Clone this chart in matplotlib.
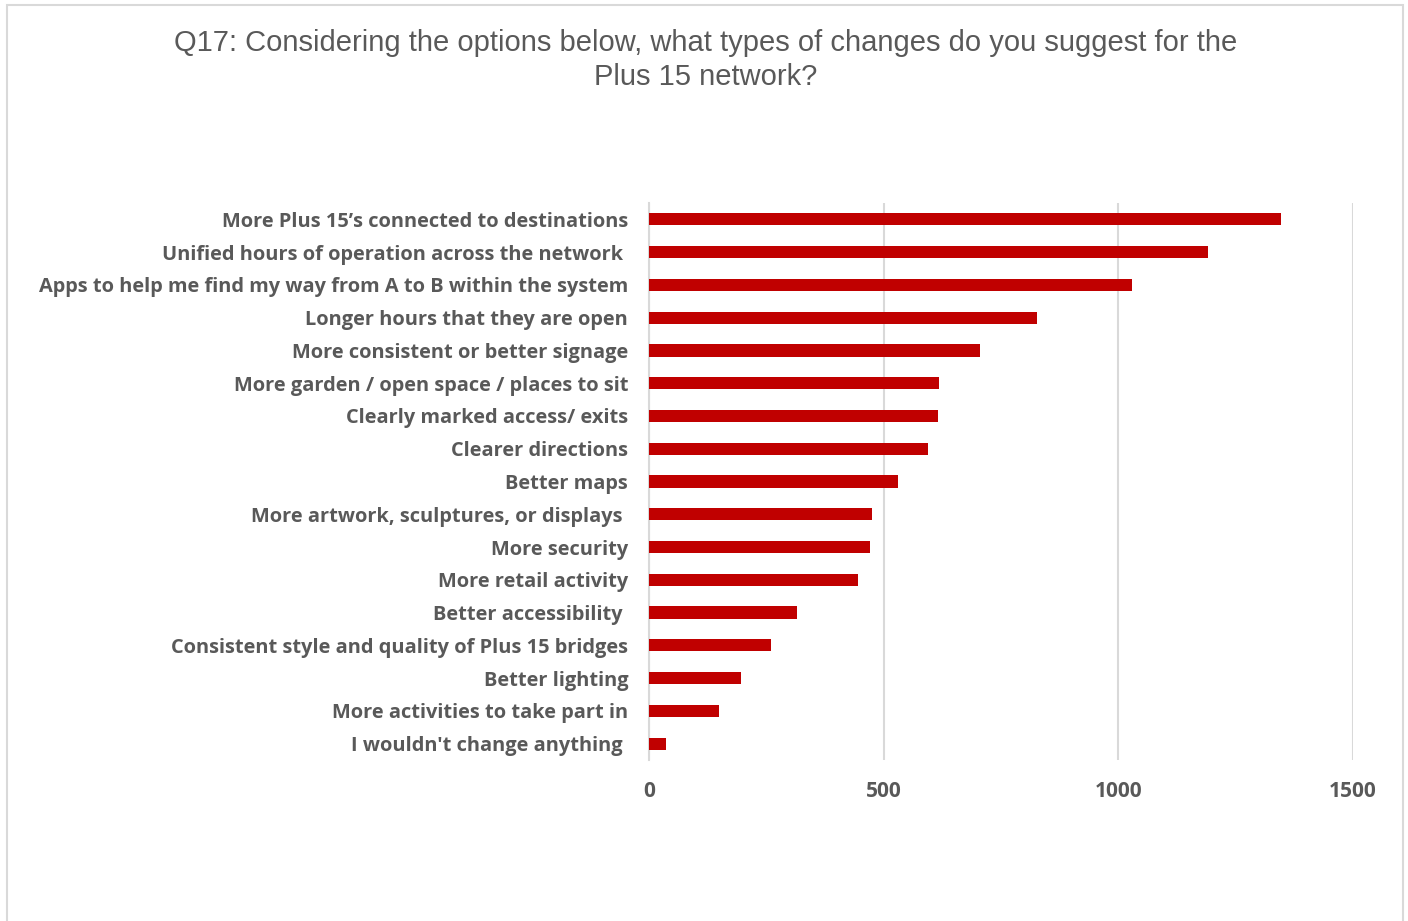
import matplotlib.pyplot as plt
from matplotlib.patches import Rectangle


TITLE = ("Q17: Considering the options below, what types of changes do you suggest for the\n"
         "Plus 15 network?")

labels = [
    "More Plus 15\u2019s connected to destinations",
    "Unified hours of operation across the network ",
    "Apps to help me find my way from A to B within the system",
    "Longer hours that they are open",
    "More consistent or better signage",
    "More garden / open space / places to sit",
    "Clearly marked access/ exits",
    "Clearer directions",
    "Better maps",
    "More artwork, sculptures, or displays ",
    "More security",
    "More retail activity",
    "Better accessibility ",
    "Consistent style and quality of Plus 15 bridges",
    "Better lighting",
    "More activities to take part in",
    "I wouldn't change anything ",
]

counts = [1347, 1192, 1030, 827, 705, 617, 616, 594, 531, 475,
          471, 445, 315, 259, 196, 149, 37]

x_ticks = [0, 500, 1000, 1500]

TEXT = "#595959"
BAR = "#C00000"
GRID = "#D9D9D9"

plt.rcParams["font.family"] = ["Open Sans", "DejaVu Sans"]
plt.rcParams["font.weight"] = "bold"


def main():
    fig = plt.figure(figsize=(14.08, 9.21), dpi=100)

    # chart frame like the spreadsheet chart area
    fig.patches.append(Rectangle((7 / 1408, -0.01), 1396 / 1408, 1 - 5 / 921 + 0.01,
                                 transform=fig.transFigure, fill=False,
                                 edgecolor=GRID, linewidth=1.5))

    fig.text(706 / 1408, 1 - 60 / 921, TITLE, ha="center", va="center",
             fontsize=21, color=TEXT, family="Liberation Sans", fontweight="normal",
             linespacing=1.25)

    ax = fig.add_axes([649 / 1408, 1 - 760 / 921, (1353 - 649) / 1408, (760 - 203) / 921])

    y = list(range(len(labels)))
    ax.barh(y, counts, height=0.37, color=BAR, zorder=3)

    ax.set_xlim(0, 1500)
    ax.set_ylim(len(labels) - 0.5, -0.5)
    ax.set_xticks(x_ticks)
    ax.set_yticks(y)
    ax.set_yticklabels(labels)

    ax.tick_params(axis="both", length=0, labelcolor=TEXT)
    ax.tick_params(axis="y", pad=15, labelsize=14.4)
    ax.tick_params(axis="x", pad=15, labelsize=15)

    ax.grid(axis="x", color=GRID, linewidth=1.5, zorder=0)
    for side in ["top", "right", "bottom"]:
        ax.spines[side].set_visible(False)
    ax.spines["left"].set_color(GRID)
    ax.spines["left"].set_linewidth(1.5)

    fig.savefig("out.png", dpi=100)


if __name__ == "__main__":
    main()
